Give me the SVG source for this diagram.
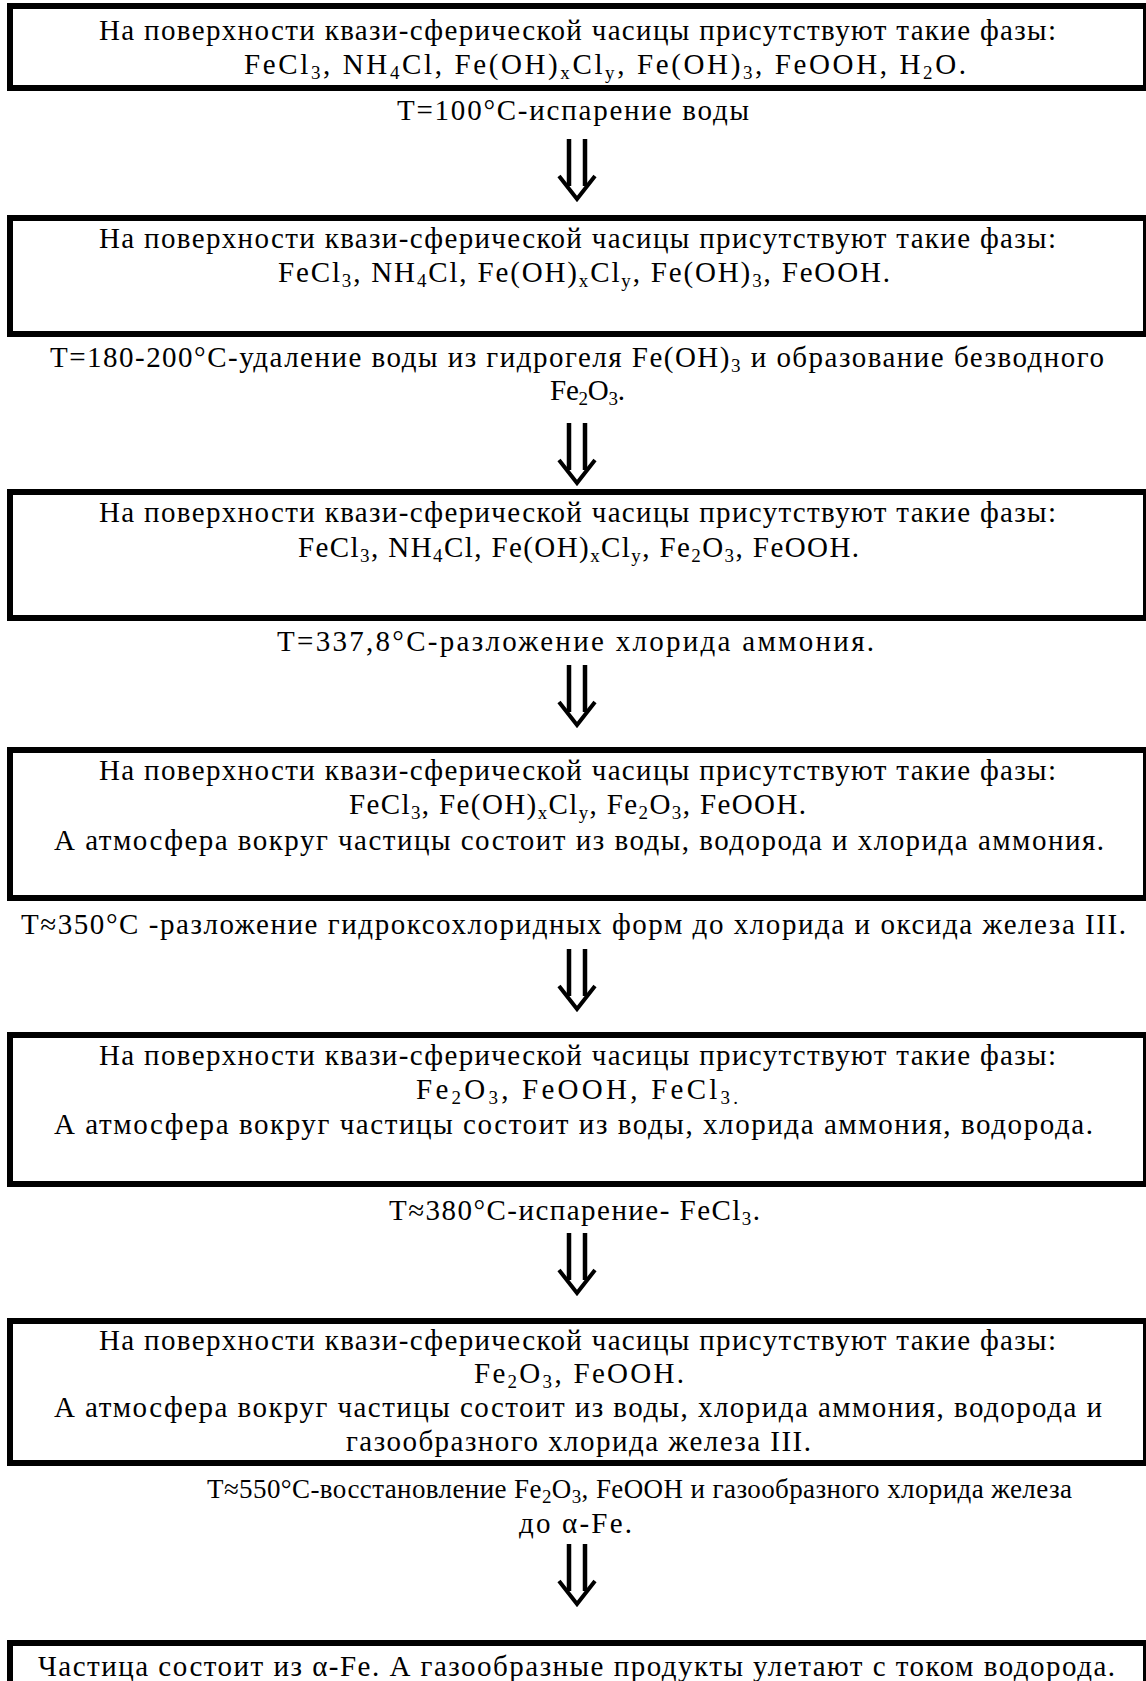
<svg xmlns="http://www.w3.org/2000/svg" xmlns:xlink="http://www.w3.org/1999/xlink" width="1146" height="1681" viewBox="0 0 1146 1681">
<style>
.t{font-family:'Liberation Serif','Times New Roman','DejaVu Serif',serif;font-size:29px;fill:#000}
.s{font-size:19px}
.box{fill:#fff;stroke:#000;stroke-width:6}
.arr{fill:none;stroke:#000}
</style>
<defs>
<g id="arrow" class="arr">
<path d="M -8 0 V 47 M 8 0 V 47" stroke-width="4.5"/>
<path d="M -18 37 L 0 60 L 18 37" stroke-width="4"/>
</g>
</defs>
<rect width="1146" height="1681" fill="#fff"/>

<g id="node1">
<rect class="box" x="10" y="6" width="1136" height="82"/>
<text class="t" x="99" y="40" textLength="957" lengthAdjust="spacing">На поверхности квази-сферической часицы присутствуют такие фазы:</text>
<text class="t" x="244" y="74" textLength="722" lengthAdjust="spacing">FeCl<tspan class="s" dy="5">3</tspan><tspan dy="-5">, NH</tspan><tspan class="s" dy="5">4</tspan><tspan dy="-5">Cl, Fe(OH)</tspan><tspan class="s" dy="5">x</tspan><tspan dy="-5">Cl</tspan><tspan class="s" dy="5">y</tspan><tspan dy="-5">, Fe(OH)</tspan><tspan class="s" dy="5">3</tspan><tspan dy="-5">, FeOOH, H</tspan><tspan class="s" dy="5">2</tspan><tspan dy="-5">O.</tspan></text>
</g>

<g id="node2">
<rect class="box" x="10" y="218" width="1136" height="116"/>
<text class="t" x="99" y="248" textLength="957" lengthAdjust="spacing">На поверхности квази-сферической часицы присутствуют такие фазы:</text>
<text class="t" x="278" y="282" textLength="612" lengthAdjust="spacing">FeCl<tspan class="s" dy="5">3</tspan><tspan dy="-5">, NH</tspan><tspan class="s" dy="5">4</tspan><tspan dy="-5">Cl, Fe(OH)</tspan><tspan class="s" dy="5">x</tspan><tspan dy="-5">Cl</tspan><tspan class="s" dy="5">y</tspan><tspan dy="-5">, Fe(OH)</tspan><tspan class="s" dy="5">3</tspan><tspan dy="-5">, FeOOH.</tspan></text>
</g>

<g id="node3">
<rect class="box" x="10" y="492" width="1136" height="126"/>
<text class="t" x="99" y="522" textLength="957" lengthAdjust="spacing">На поверхности квази-сферической часицы присутствуют такие фазы:</text>
<text class="t" x="298" y="557" textLength="561" lengthAdjust="spacing">FeCl<tspan class="s" dy="5">3</tspan><tspan dy="-5">, NH</tspan><tspan class="s" dy="5">4</tspan><tspan dy="-5">Cl, Fe(OH)</tspan><tspan class="s" dy="5">x</tspan><tspan dy="-5">Cl</tspan><tspan class="s" dy="5">y</tspan><tspan dy="-5">, Fe</tspan><tspan class="s" dy="5">2</tspan><tspan dy="-5">O</tspan><tspan class="s" dy="5">3</tspan><tspan dy="-5">, FeOOH.</tspan></text>
</g>

<g id="node4">
<rect class="box" x="10" y="750" width="1136" height="148"/>
<text class="t" x="99" y="780" textLength="957" lengthAdjust="spacing">На поверхности квази-сферической часицы присутствуют такие фазы:</text>
<text class="t" x="349" y="814" textLength="457" lengthAdjust="spacing">FeCl<tspan class="s" dy="5">3</tspan><tspan dy="-5">, Fe(OH)</tspan><tspan class="s" dy="5">x</tspan><tspan dy="-5">Cl</tspan><tspan class="s" dy="5">y</tspan><tspan dy="-5">, Fe</tspan><tspan class="s" dy="5">2</tspan><tspan dy="-5">O</tspan><tspan class="s" dy="5">3</tspan><tspan dy="-5">, FeOOH.</tspan></text>
<text class="t" x="54" y="850" textLength="1050" lengthAdjust="spacing">А атмосфера вокруг частицы состоит из воды, водорода и хлорида аммония.</text>
</g>

<g id="node5">
<rect class="box" x="10" y="1035" width="1136" height="149"/>
<text class="t" x="99" y="1065" textLength="957" lengthAdjust="spacing">На поверхности квази-сферической часицы присутствуют такие фазы:</text>
<text class="t" x="416" y="1099" textLength="322" lengthAdjust="spacing">Fe<tspan class="s" dy="5">2</tspan><tspan dy="-5">O</tspan><tspan class="s" dy="5">3</tspan><tspan dy="-5">, FeOOH, FeCl</tspan><tspan class="s" dy="5">3.</tspan></text>
<text class="t" x="54" y="1134" textLength="1039" lengthAdjust="spacing">А атмосфера вокруг частицы состоит из воды, хлорида аммония, водорода.</text>
</g>

<g id="node6">
<rect class="box" x="10" y="1321" width="1136" height="142"/>
<text class="t" x="99" y="1350" textLength="957" lengthAdjust="spacing">На поверхности квази-сферической часицы присутствуют такие фазы:</text>
<text class="t" x="474" y="1383" textLength="210" lengthAdjust="spacing">Fe<tspan class="s" dy="5">2</tspan><tspan dy="-5">O</tspan><tspan class="s" dy="5">3</tspan><tspan dy="-5">, FeOOH.</tspan></text>
<text class="t" x="54" y="1417" textLength="1048" lengthAdjust="spacing">А атмосфера вокруг частицы состоит из воды, хлорида аммония, водорода и</text>
<text class="t" x="346" y="1451" textLength="465" lengthAdjust="spacing">газообразного хлорида железа III.</text>
</g>

<g id="node7">
<rect class="box" x="10" y="1643" width="1136" height="80"/>
<text class="t" x="38" y="1676" textLength="1077" lengthAdjust="spacing">Частица состоит из α-Fe. А газообразные продукты улетают с током водорода.</text>
</g>

<g id="connectors">
<text class="t" x="397" y="120" textLength="352" lengthAdjust="spacing">T=100°C-испарение воды</text>
<use xlink:href="#arrow" transform="translate(577,139)"/>

<text class="t" x="50" y="367" textLength="1054" lengthAdjust="spacing">T=180-200°C-удаление воды из гидрогеля Fe(OH)<tspan class="s" dy="5">3</tspan><tspan dy="-5"> и образование безводного</tspan></text>
<text class="t" x="550" y="400" textLength="75" lengthAdjust="spacing">Fe<tspan class="s" dy="5">2</tspan><tspan dy="-5">O</tspan><tspan class="s" dy="5">3</tspan><tspan dy="-5">.</tspan></text>
<use xlink:href="#arrow" transform="translate(577,423)"/>

<text class="t" x="277" y="651" textLength="597" lengthAdjust="spacing">T=337,8°C-разложение хлорида аммония.</text>
<use xlink:href="#arrow" transform="translate(577,665)"/>

<text class="t" x="21" y="934" textLength="1105" lengthAdjust="spacing">T≈350°C -разложение гидроксохлоридных форм до хлорида и оксида железа III.</text>
<use xlink:href="#arrow" transform="translate(577,949)"/>

<text class="t" x="389" y="1220" textLength="371" lengthAdjust="spacing">T≈380°C-испарение- FeCl<tspan class="s" dy="5">3</tspan><tspan dy="-5">.</tspan></text>
<use xlink:href="#arrow" transform="translate(577,1233)"/>

<text class="t" x="207" y="1498" textLength="865" lengthAdjust="spacing" style="font-size:27px">T≈550°C-восстановление Fe<tspan class="s" dy="5">2</tspan><tspan dy="-5">O</tspan><tspan class="s" dy="5">3</tspan><tspan dy="-5">, FeOOH и газообразного хлорида железа</tspan></text>
<text class="t" x="519" y="1533" textLength="113" lengthAdjust="spacing">до α-Fe.</text>
<use xlink:href="#arrow" transform="translate(577,1544)"/>
</g>
</svg>
